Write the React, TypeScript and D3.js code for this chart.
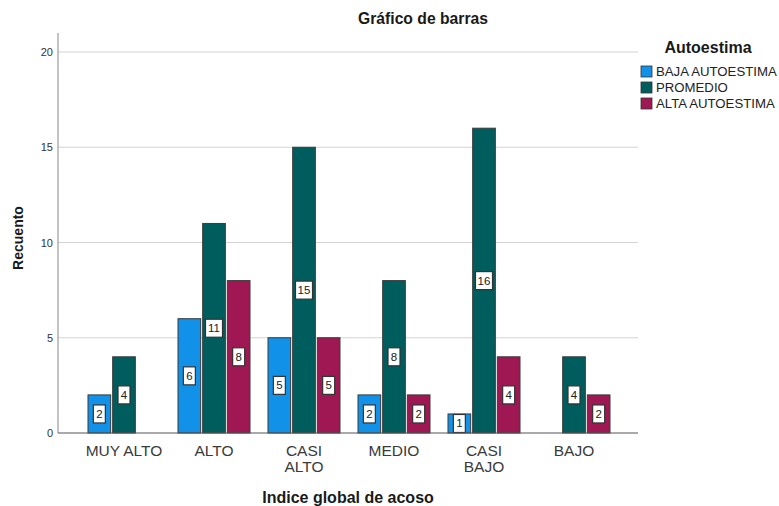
import React from "react";
import * as d3 from "d3";

const categories = ["MUY ALTO", "ALTO", "CASI ALTO", "MEDIO", "CASI BAJO", "BAJO"];
const categoryLines = [["MUY ALTO"], ["ALTO"], ["CASI", "ALTO"], ["MEDIO"], ["CASI", "BAJO"], ["BAJO"]];
const seriesNames = ["BAJA AUTOESTIMA", "PROMEDIO", "ALTA AUTOESTIMA"];
const seriesColors = ["#1192e8", "#005d5d", "#9f1853"];
const bajaValues: (number | null)[] = [2, 6, 5, 2, 1, null];
const promedioValues: (number | null)[] = [4, 11, 15, 8, 16, 4];
const altaValues: (number | null)[] = [null, 8, 5, 2, 4, 2];
const yTicks = [0, 5, 10, 15, 20];

const series = [bajaValues, promedioValues, altaValues];

const W = 779;
const H = 506;
const plotLeft = 58;
const plotRight = 638;
const plotTop = 33;
const plotBottom = 433;
const font = "'Liberation Sans', Arial, sans-serif";

export default function App() {
  const y = d3.scaleLinear().domain([0, 20]).range([plotBottom, 52]);
  const x = d3.scaleBand<string>().domain(categories).range([79, 619]).paddingInner(0).paddingOuter(0);
  const inner = d3.scaleBand<number>().domain([0, 1, 2]).range([0, 72]).paddingInner(0.08);
  const bw = inner.bandwidth();

  return (
    <svg width={W} height={H} style={{ position: "absolute", left: 0, top: 0, background: "#fff" }} fontFamily={font}>
      <rect x={0} y={0} width={W} height={H} fill="#fff" />
      {/* Title */}
      <text x={423} y={24} textAnchor="middle" fontSize={15.7} fontWeight="bold" fill="#1a1a1a">Gráfico de barras</text>
      {/* Gridlines */}
      {yTicks.slice(1).map((t) => (
        <line key={t} x1={plotLeft} x2={plotRight} y1={y(t)} y2={y(t)} stroke="#d4d4d4" strokeWidth={1.2} />
      ))}
      {/* Y tick labels */}
      {yTicks.map((t) => (
        <text key={t} x={53} y={y(t) + 4} textAnchor="end" fontSize={11} fill="#333">{t}</text>
      ))}
      {/* Bars */}
      {series.map((vals, si) =>
        vals.map((v, ci) => {
          if (v == null) return null;
          const cx = (x(categories[ci]) as number) + (x.bandwidth() - 72) / 2 + (inner(si) as number);
          return (
            <rect key={`${si}-${ci}`} x={cx} y={y(v)} width={bw} height={plotBottom - y(v)} fill={seriesColors[si]} stroke="#3a3a3a" strokeWidth={1} />
          );
        })
      )}
      {/* Value labels */}
      {series.map((vals, si) =>
        vals.map((v, ci) => {
          if (v == null) return null;
          const cx = (x(categories[ci]) as number) + (x.bandwidth() - 72) / 2 + (inner(si) as number) + bw / 2;
          const cy = y(v / 2);
          const s = String(v);
          const bwid = s.length > 1 ? 17 : 12;
          return (
            <g key={`l-${si}-${ci}`}>
              <rect x={cx - bwid / 2} y={cy - 9} width={bwid} height={18} fill="#fff" stroke="#333" strokeWidth={1.2} />
              <text x={cx} y={cy + 4} textAnchor="middle" fontSize={11.5} fill="#222">{s}</text>
            </g>
          );
        })
      )}
      {/* Axes */}
      <line x1={plotLeft} x2={plotLeft} y1={plotTop} y2={plotBottom} stroke="#888" strokeWidth={1} />
      <line x1={plotLeft} x2={plotRight} y1={plotBottom} y2={plotBottom} stroke="#555" strokeWidth={1} />
      {/* X tick labels */}
      {categoryLines.map((lines, ci) => (
        <text key={ci} x={(x(categories[ci]) as number) + x.bandwidth() / 2} y={456} textAnchor="middle" fontSize={15.5} fill="#3a3a3a">
          {lines.map((l, li) => (
            <tspan key={li} x={(x(categories[ci]) as number) + x.bandwidth() / 2} dy={li === 0 ? 0 : 16}>{l}</tspan>
          ))}
        </text>
      ))}
      {/* Axis titles */}
      <text x={348} y={503} textAnchor="middle" fontSize={16} fontWeight="bold" fill="#1a1a1a">Indice global de acoso</text>
      <text transform={`translate(23,238) rotate(-90)`} textAnchor="middle" fontSize={14} fontWeight="bold" fill="#1a1a1a">Recuento</text>
      {/* Legend */}
      <text x={708} y={53} textAnchor="middle" fontSize={16} fontWeight="bold" fill="#1a1a1a">Autoestima</text>
      {seriesNames.map((n, i) => (
        <g key={n}>
          <rect x={641} y={66 + i * 16} width={11} height={11} fill={seriesColors[i]} stroke="#333" strokeWidth={0.8} />
          <text x={656} y={76 + i * 16} fontSize={13.2} fill="#222">{n}</text>
        </g>
      ))}
    </svg>
  );
}
